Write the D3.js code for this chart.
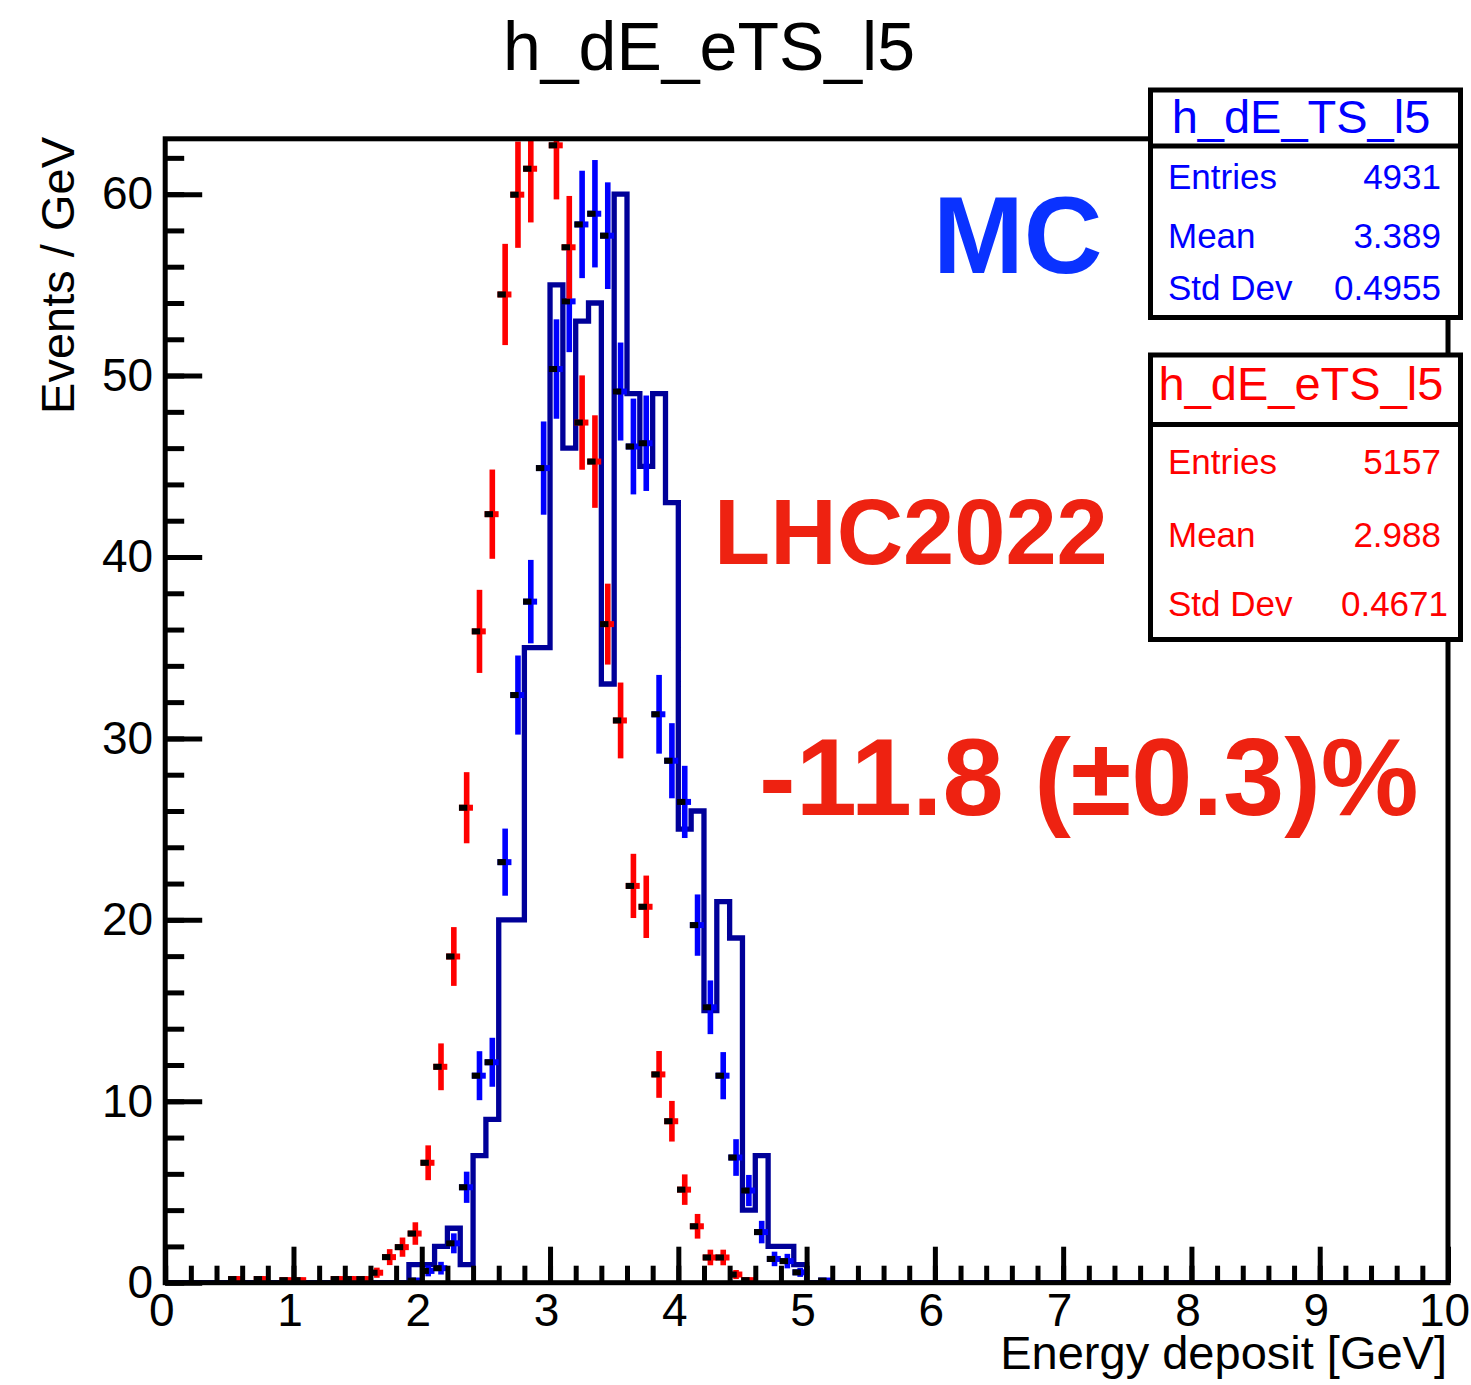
<!DOCTYPE html>
<html>
<head>
<meta charset="utf-8">
<script src="https://cdn.jsdelivr.net/npm/d3@7"></script>
<style>
  body { margin: 0; background: #fff; }
  text { font-family: "Liberation Sans", Arial, Helvetica, sans-serif; }
</style>
</head>
<body>
<div id="chart"></div>
<script>
// navy step histogram: lower bin edge (GeV) and height
var stepLow = [1.9, 2.0, 2.1, 2.2, 2.3, 2.4, 2.5, 2.6, 2.7, 2.8, 2.9, 3.0, 3.1, 3.2, 3.3, 3.4,
  3.5, 3.6, 3.7, 3.8, 3.9, 4.0, 4.1, 4.2, 4.3, 4.4, 4.5, 4.6, 4.7, 4.8, 4.9];
var stepVal = [1, 1, 2, 3, 1, 7, 9, 20, 20, 35, 35, 55, 46, 53, 54, 33,
  60, 49, 45, 49, 43, 25, 26, 15, 21, 19, 4, 7, 2, 2, 1];
var binWidth = 0.1;

// blue points (h_dE_TS_l5)
var mcX = [1.95, 2.05, 2.15, 2.25, 2.35, 2.45, 2.55, 2.65, 2.75, 2.85, 2.95, 3.05, 3.15, 3.25, 3.35, 3.45,
  3.55, 3.65, 3.75, 3.85, 3.95, 4.05, 4.15, 4.25, 4.35, 4.45, 4.55, 4.65, 4.75, 4.85, 4.95, 5.15];
var mcY = [0.12, 0.65, 0.8, 2.17, 5.26, 11.41, 12.15, 23.18, 32.39, 37.54, 44.9, 50.36, 54.09, 58.33, 58.92, 57.71,
  49.12, 46.09, 46.27, 31.33, 28.77, 26.5, 19.71, 15.18, 11.41, 6.9, 5.08, 2.79, 1.31, 1.19, 0.57, 0.12];
var mcErr = [0.1, 0.3, 0.35, 0.55, 0.86, 1.35, 1.35, 1.85, 2.18, 2.3, 2.57, 2.74, 2.8, 2.96, 2.96, 2.94,
  2.7, 2.64, 2.63, 2.17, 2.07, 1.99, 1.69, 1.48, 1.3, 1.01, 0.86, 0.62, 0.4, 0.4, 0.25, 0.1];

// red points (h_dE_eTS_l5)
var dataX = [0.55, 0.75, 0.95, 1.05, 1.35, 1.45, 1.55, 1.65, 1.75, 1.85, 1.95, 2.05, 2.15, 2.25, 2.35, 2.45,
  2.55, 2.65, 2.75, 2.85, 2.95, 3.05, 3.15, 3.25, 3.35, 3.45, 3.55, 3.65, 3.75, 3.85, 3.95, 4.05,
  4.15, 4.25, 4.35, 4.45, 4.55];
var dataY = [0.2, 0.2, 0.14, 0.14, 0.2, 0.2, 0.2, 0.55, 1.41, 1.96, 2.71, 6.61, 11.9, 17.98, 26.18, 35.9,
  42.36, 54.47, 59.97, 61.4, 64.5, 62.69, 57.07, 47.41, 45.26, 36.3, 30.99, 21.87, 20.72, 11.48, 8.9, 5.13,
  3.11, 1.39, 1.39, 0.45, 0.14];
var dataErr = [0.17, 0.17, 0.14, 0.14, 0.17, 0.17, 0.17, 0.28, 0.44, 0.53, 0.62, 0.96, 1.29, 1.62, 1.96, 2.29,
  2.46, 2.79, 2.93, 2.96, 3.03, 2.98, 2.83, 2.6, 2.55, 2.23, 2.09, 1.77, 1.72, 1.29, 1.12, 0.84,
  0.68, 0.43, 0.43, 0.25, 0.14];

var statNames = ["Entries", "Mean", "Std Dev"];
var mcStats = ["4931", "3.389", "0.4955"];
var dataStats = ["5157", "2.988", "0.4671"];

var xMax = 10, yMax = 63.05;
var xMajor = [0, 1, 2, 3, 4, 5, 6, 7, 8, 9, 10];
var yMajor = [0, 10, 20, 30, 40, 50, 60];

var width = 1471, height = 1385;
var frameL = 165.2, frameR = 1448, frameT = 138.8, frameB = 1282.7;

var svg = d3.select("#chart").append("svg")
  .attr("width", width)
  .attr("height", height);

var x = d3.scaleLinear().domain([0, xMax]).range([frameL, frameR]);
var y = d3.scaleLinear().domain([0, yMax]).range([frameB, frameT]);

svg.append("defs").append("clipPath").attr("id", "plotClip")
  .append("rect")
    .attr("x", frameL).attr("y", frameT + 2)
    .attr("width", frameR - frameL).attr("height", frameB - frameT - 2);

var plot = svg.append("g").attr("clip-path", "url(#plotClip)");

// step histogram
var stepPts = [[0, 0], [stepLow[0], 0]];
stepLow.forEach(function(lo, i) {
  stepPts.push([lo, stepVal[i]]);
  stepPts.push([lo + binWidth, stepVal[i]]);
});
stepPts.push([stepLow[stepLow.length - 1] + binWidth, 0]);
stepPts.push([xMax, 0]);

plot.append("path")
  .attr("d", d3.line().x(d => x(d[0])).y(d => y(d[1]))(stepPts))
  .attr("fill", "none")
  .attr("stroke", "#000099")
  .attr("stroke-width", 5.3)
  .attr("stroke-linejoin", "miter");

function drawPoints(xs, ys, errs, color) {
  // like ROOT, points above the frame are not drawn
  var pts = xs.map(function(v, i) { return {x: v, y: ys[i], e: errs[i]}; })
    .filter(function(d) { return d.y <= yMax; });
  var g = plot.append("g");
  g.selectAll("rect.bar").data(pts).join("rect")
    .attr("class", "bar")
    .attr("x", d => x(d.x) - 2.8)
    .attr("width", 5.6)
    .attr("y", d => y(d.y + d.e))
    .attr("height", d => y(d.y - d.e) - y(d.y + d.e))
    .attr("fill", color);
  g.selectAll("rect.hz").data(pts).join("rect")
    .attr("class", "hz")
    .attr("x", d => x(d.x) - 7.7)
    .attr("width", 14)
    .attr("y", d => y(d.y) - 3)
    .attr("height", 6)
    .attr("fill", color);
  g.selectAll("rect.mk").data(pts).join("rect")
    .attr("class", "mk")
    .attr("x", d => x(d.x) - 7.7)
    .attr("width", 8.4)
    .attr("y", d => y(d.y) - 3)
    .attr("height", 6)
    .attr("fill", "#000");
}

drawPoints(mcX, mcY, mcErr, "#0000ff");
drawPoints(dataX, dataY, dataErr, "#ff0000");

// frame
svg.append("rect")
  .attr("x", frameL).attr("y", frameT)
  .attr("width", frameR - frameL).attr("height", frameB - frameT)
  .attr("fill", "none")
  .attr("stroke", "#000")
  .attr("stroke-width", 5);

function styleAxis(g, size) {
  g.select(".domain").remove();
  g.selectAll(".tick line").attr("stroke", "#000").attr("stroke-width", 5);
  g.selectAll(".tick text").attr("fill", "#000")
    .style("font-size", size + "px")
    .style("font-family", '"Liberation Sans", Arial, Helvetica, sans-serif');
}

var xMinorAxis = svg.append("g")
  .attr("transform", "translate(0," + frameB + ")")
  .call(d3.axisBottom(x).tickValues(x.ticks(50)).tickSize(-17).tickFormat(""));
styleAxis(xMinorAxis, 46);

var xAxis = svg.append("g")
  .attr("transform", "translate(0," + frameB + ")")
  .call(d3.axisBottom(x).tickValues(xMajor).tickSize(-36).tickPadding(11).tickFormat(d3.format("d")));
styleAxis(xAxis, 46);
xAxis.selectAll(".tick text").attr("dx", -4);

var yMinorAxis = svg.append("g")
  .attr("transform", "translate(" + frameL + ",0)")
  .call(d3.axisLeft(y).tickValues(y.ticks(30)).tickSize(-19).tickFormat(""));
styleAxis(yMinorAxis, 46);

var yAxis = svg.append("g")
  .attr("transform", "translate(" + frameL + ",0)")
  .call(d3.axisLeft(y).tickValues(yMajor).tickSize(-37).tickPadding(12).tickFormat(d3.format("d")));
styleAxis(yAxis, 46);

// titles
svg.append("text")
  .attr("x", 709).attr("y", 70)
  .attr("text-anchor", "middle")
  .style("font-size", "68px")
  .text("h_dE_eTS_l5");

svg.append("text")
  .attr("x", 1447).attr("y", 1369)
  .attr("text-anchor", "end")
  .style("font-size", "47px")
  .text("Energy deposit [GeV]");

svg.append("text")
  .attr("transform", "translate(74,137) rotate(-90)")
  .attr("text-anchor", "end")
  .style("font-size", "47px")
  .text("Events / GeV");

// annotations
svg.append("text")
  .attr("x", 933).attr("y", 273)
  .style("font-size", "109px").style("font-weight", "bold")
  .attr("fill", "#0a32ff")
  .text("MC");

svg.append("text")
  .attr("x", 714).attr("y", 564)
  .style("font-size", "92px").style("font-weight", "bold")
  .attr("fill", "#ee2211")
  .text("LHC2022");

svg.append("text")
  .attr("x", 759).attr("y", 815)
  .style("font-size", "110px").style("font-weight", "bold")
  .attr("fill", "#ee2211")
  .text("-11.8 (\u00b10.3)%");

// stat boxes
function statBox(y0, y1, ySep, name, nameY, values, rowsY, valueX, color) {
  var g = svg.append("g");
  g.append("rect")
    .attr("x", 1150.5).attr("y", y0)
    .attr("width", 310).attr("height", y1 - y0)
    .attr("fill", "#fff").attr("stroke", "#000").attr("stroke-width", 5);
  g.append("line")
    .attr("x1", 1150.5).attr("x2", 1460.5)
    .attr("y1", ySep).attr("y2", ySep)
    .attr("stroke", "#000").attr("stroke-width", 5);
  g.append("text")
    .attr("x", 1301).attr("y", nameY)
    .attr("text-anchor", "middle")
    .style("font-size", "47px")
    .attr("fill", color)
    .text(name);
  statNames.forEach(function(s, i) {
    g.append("text")
      .attr("x", 1168).attr("y", rowsY[i])
      .style("font-size", "35px")
      .attr("fill", color)
      .text(s);
    g.append("text")
      .attr("x", valueX[i]).attr("y", rowsY[i])
      .attr("text-anchor", "end")
      .style("font-size", "35px")
      .attr("fill", color)
      .text(values[i]);
  });
}

statBox(90, 317.5, 146, "h_dE_TS_l5", 133, mcStats, [189, 248, 300], [1441, 1441, 1441], "#0000ff");
statBox(355, 639.5, 424.5, "h_dE_eTS_l5", 400, dataStats, [474, 547, 616], [1441, 1441, 1448], "#ff0000");
</script>
</body>
</html>
